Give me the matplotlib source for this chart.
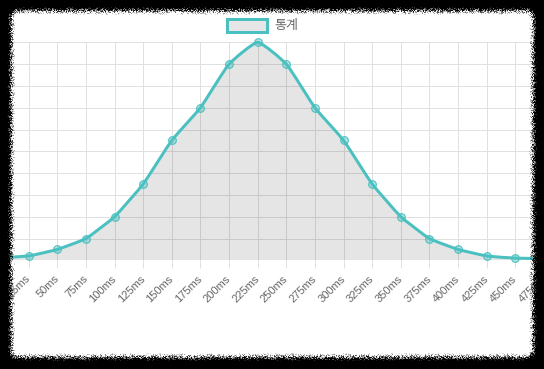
import numpy as np
import matplotlib
matplotlib.use('Agg')
import matplotlib.pyplot as plt
from matplotlib.path import Path
from matplotlib.patches import PathPatch, Rectangle

# Dados do gráfico
labels = ['0ms', '25ms', '50ms', '75ms', '100ms', '125ms', '150ms', '175ms', '200ms', '225ms',
          '250ms', '275ms', '300ms', '325ms', '350ms', '375ms', '400ms', '425ms', '450ms', '475ms']
values = [1.2, 2, 5, 10, 20, 35, 55, 70, 90, 100, 90, 70, 55, 35, 20, 10, 5, 2, 1, 0.8]
legend_label = '통계'

W, H = 544, 369
teal = (75/255, 192/255, 192/255)
grid_c = '#e0e0e0'
px = 0.72  # 1 px em pontos

fig = plt.figure(figsize=(W/100, H/100), dpi=100)
fig.patch.set_facecolor('white')

# área do gráfico (em pixels, origem no topo)
top_px, base_px = 42.3, 260.3
x25_px, step_px = 25.7, 29.05
ax = fig.add_axes([0, (H - base_px)/H, 1, (base_px - top_px)/H])
xmin = 1 - x25_px/step_px
xmax = 1 + (W - x25_px)/step_px
ax.set_xlim(xmin, xmax)
ax.set_ylim(0, 100)
for s in ax.spines.values():
    s.set_visible(False)

x = np.arange(len(values))
y = np.array(values, dtype=float)

# grade
ax.set_yticks(np.arange(0, 101, 10))
ax.set_xticks(x)
ax.grid(True, color=grid_c, lw=px, alpha=1, zorder=0)
ax.axhline(0, color='#bfbfbf', lw=px, zorder=1)
ax.tick_params(axis='y', length=0, labelleft=False)
ax.tick_params(axis='x', length=8*px, width=px, color=grid_c, pad=6.3,
               labelsize=8, labelcolor='#666666')
ax.set_xticklabels(labels, rotation=45, ha='right', va='center', rotation_mode='anchor',
                   family='Liberation Sans')

# curva estilo Chart.js (bezier com tensão), calculada em pixels
sx = step_px
sy = (base_px - top_px)/100
t = 0.15
P = np.column_stack((x*sx, y*sy))
cp_prev = P.copy()
cp_next = P.copy()
for i in range(len(P)):
    prev = P[i-1] if i > 0 else P[i]
    nxt = P[i+1] if i < len(P)-1 else P[i]
    d01 = np.hypot(*(P[i]-prev))
    d12 = np.hypot(*(nxt-P[i]))
    tot = d01 + d12
    s01 = d01/tot if tot else 0
    s12 = d12/tot if tot else 0
    cp_prev[i] = P[i] - t*s01*(nxt-prev)
    cp_next[i] = P[i] + t*s12*(nxt-prev)
cp_prev[:, 1] = np.clip(cp_prev[:, 1], 0, 100*sy)
cp_next[:, 1] = np.clip(cp_next[:, 1], 0, 100*sy)
scale = np.array([sx, sy])
Pd, cpp, cpn = P/scale, cp_prev/scale, cp_next/scale

verts = [Pd[0]]
codes = [Path.MOVETO]
for i in range(len(Pd)-1):
    verts += [cpn[i], cpp[i+1], Pd[i+1]]
    codes += [Path.CURVE4]*3
line_path = Path(verts, codes)
fill_path = Path(verts + [(Pd[-1][0], 0), (Pd[0][0], 0), (0, 0)],
                 codes + [Path.LINETO, Path.LINETO, Path.CLOSEPOLY])

ax.add_patch(PathPatch(fill_path, facecolor=(0, 0, 0, 0.1), edgecolor='none', zorder=2))
ax.add_patch(PathPatch(line_path, facecolor='none', edgecolor=teal, lw=3*px,
                       zorder=3, clip_on=False, capstyle='round', joinstyle='round'))
ax.plot(x, y, 'o', ms=5.5, mew=0.8, mec=teal, mfc=teal + (0.4,), zorder=4, clip_on=False)

# legenda
fig.patches.append(Rectangle((227/W, 1 - 32/H), 40/W, 13/H, transform=fig.transFigure,
                             facecolor='#e6e6e6', edgecolor=teal, lw=3*px))
fig.text(274.5/W, 1 - 25.5/H, legend_label, fontsize=9.4, color='#666666',
         family=['Noto Sans CJK KR', 'DejaVu Sans'], va='center', ha='left')

# moldura preta com borda irregular
yy, xx = np.mgrid[0:H, 0:W] + 0.5
x0, x1, y0, y1, r = 10.5, 534.0, 10.0, 358.0, 8.0
cx, cy = (x0+x1)/2, (y0+y1)/2
hx, hy = (x1-x0)/2, (y1-y0)/2
qx = np.abs(xx-cx) - (hx-r)
qy = np.abs(yy-cy) - (hy-r)
d = np.hypot(np.maximum(qx, 0), np.maximum(qy, 0)) + np.minimum(np.maximum(qx, qy), 0) - r
n = np.sin(xx*12.9898 + yy*78.233)*43758.5453
n = n - np.floor(n)
alpha = np.clip((d + 3)/4 + (n - 0.5)*1.2, 0, 1)
rgba = np.zeros((H, W, 4))
rgba[..., 3] = alpha
ov = fig.add_axes([0, 0, 1, 1], zorder=10)
ov.imshow(rgba, extent=(0, W, H, 0), aspect='auto', interpolation='nearest')
ov.set_xlim(0, W)
ov.set_ylim(H, 0)
ov.axis('off')

fig.savefig('out.png', dpi=100)
